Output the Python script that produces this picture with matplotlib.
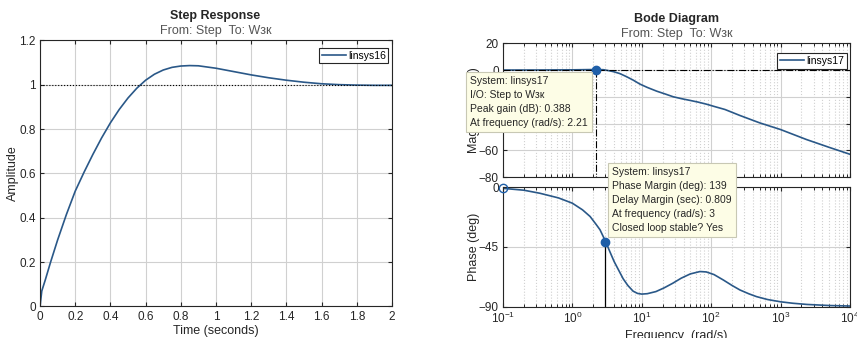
import matplotlib
matplotlib.use("Agg")
import matplotlib.pyplot as plt
from matplotlib.ticker import FuncFormatter, LogLocator, NullFormatter

plt.rcParams['font.family'] = ['Liberation Sans', 'DejaVu Sans']

# step response
step_t = [0, 0.01, 0.03, 0.06, 0.1, 0.15, 0.2, 0.25, 0.3, 0.35, 0.4, 0.45, 0.5,
          0.55, 0.6, 0.65, 0.7, 0.75, 0.8, 0.85, 0.9, 1.0, 1.1, 1.2, 1.3, 1.4,
          1.5, 1.6, 1.7, 1.8, 1.9, 2.0]
step_amp = [0, 0.07, 0.12, 0.2, 0.3, 0.415, 0.52, 0.605, 0.685, 0.76, 0.828,
            0.888, 0.94, 0.984, 1.02, 1.047, 1.066, 1.078, 1.084, 1.086, 1.085,
            1.074, 1.059, 1.044, 1.031, 1.02, 1.011, 1.004, 1.0, 0.998, 0.997,
            0.997]

# bode magnitude
mag_w = [0.1, 0.3, 1, 1.6, 2.21, 2.8, 3.3, 3.9, 4.8, 6, 7.5, 9.4, 12, 16.4, 22,
         28.4, 38, 49.5, 65, 85, 110, 158, 260, 500, 1000, 2370, 5000, 10000]
mag_db = [0, 0.03, 0.15, 0.3, 0.388, 0.25, -0.4, -1.2, -2.6, -4.9, -7.5, -10.5,
          -13, -15.8, -18, -20, -21.5, -22.7, -24, -25.5, -27.2, -29.5, -34,
          -39.5, -44.5, -52, -57.8, -63]

# bode phase
ph_w = [0.1, 0.2, 0.34, 0.63, 1.0, 1.4, 1.8, 2.2, 2.5, 3.0, 3.5, 4, 4.7, 5.4,
        6.3, 7.5, 8.7, 10, 12, 16, 21, 28, 37, 50, 69, 85, 110, 150, 200, 260,
        350, 450, 650, 1000, 1500, 2400, 5000, 10000]
ph_deg = [-0.8, -2.2, -4.5, -8, -12, -17, -22, -28, -32, -40.7, -49, -56, -63,
          -69, -74, -78.3, -80, -80.5, -80.2, -78.6, -75.8, -72.3, -68.5, -65.3,
          -63.5, -63.8, -65.8, -69.9, -74, -77.4, -80.3, -82.4, -84.6, -86.3,
          -87.4, -88.3, -89.1, -89.5]

peak_w, peak_db = 2.21, 0.388
pm_w, pm_deg = 3.0, -41.0

tip1 = ["System: linsys17", "I/O: Step to W\u0437\u043a",
        "Peak gain (dB): 0.388", "At frequency (rad/s): 2.21"]
tip2 = ["System: linsys17", "Phase Margin (deg): 139",
        "Delay Margin (sec): 0.809", "At frequency (rad/s): 3",
        "Closed loop stable? Yes"]

line_c = '#2a5888'
txt_c = '#262626'
grid_c = '#d0d0d0'


def style(ax):
    ax.tick_params(direction='in', top=True, right=True, labelsize=8.5,
                   colors=txt_c, length=3, pad=3)
    ax.tick_params(which='minor', direction='in', top=True, right=True, length=2)
    for s in ax.spines.values():
        s.set_color(txt_c)
        s.set_linewidth(0.8)
    ax.grid(True, which='major', color=grid_c, linewidth=0.8)


def legend(ax, y):
    lg = ax.legend(loc='upper right', fontsize=7.5, handlelength=2.3,
                   handletextpad=0.2, fancybox=False, framealpha=1,
                   borderpad=0.25, borderaxespad=0, bbox_to_anchor=(0.99, y))
    lg.get_frame().set_edgecolor(txt_c)
    lg.get_frame().set_linewidth(0.8)


fig = plt.figure(figsize=(8.57, 3.38), dpi=100)

# ---- step response ----
ax = fig.add_axes([0.0467, 0.0932, 0.4107, 0.7876])
ax.plot(step_t, step_amp, color=line_c, lw=1.2, label='linsys16')
ax.axhline(1.0, color='k', ls=':', lw=0.8)
ax.set_xlim(0, 2)
ax.set_ylim(0, 1.2)
ax.set_xticks([0, 0.2, 0.4, 0.6, 0.8, 1, 1.2, 1.4, 1.6, 1.8, 2])
ax.set_yticks([0, 0.2, 0.4, 0.6, 0.8, 1, 1.2])
fmt = FuncFormatter(lambda v, p: '%g' % round(v, 2))
ax.xaxis.set_major_formatter(fmt)
ax.yaxis.set_major_formatter(fmt)
style(ax)
ax.set_xlabel('Time (seconds)', fontsize=9, color=txt_c, labelpad=2)
ax.set_ylabel('Amplitude', fontsize=9, color=txt_c, labelpad=0)
legend(ax, 0.97)
fig.text(0.2515, 0.952, 'Step Response', ha='center', va='center',
         fontsize=9, fontweight='bold', color=txt_c)
fig.text(0.2515, 0.907, 'From: Step  To: W\u0437\u043a', ha='center',
         va='center', fontsize=9, color='#555555')

# ---- bode magnitude ----
axm = fig.add_axes([0.5869, 0.4763, 0.4049, 0.3956])
axm.semilogx(mag_w, mag_db, color=line_c, lw=1.2, label='linsys17')
axm.axhline(0, color='k', ls='-.', lw=0.8)
axm.plot([peak_w, peak_w], [peak_db, -80], color='k', ls='-.', lw=0.8)
axm.plot(peak_w, peak_db, 'o', color='#1f5fa8', ms=6, zorder=5)
axm.set_xlim(0.1, 10000)
axm.set_ylim(-80, 20)
axm.set_yticks([20, 0, -20, -40, -60, -80])
axm.xaxis.set_minor_locator(LogLocator(base=10, subs=range(2, 10), numticks=20))
axm.xaxis.set_minor_formatter(NullFormatter())
axm.set_xticklabels([])
style(axm)
axm.grid(True, which='minor', axis='x', color=grid_c, ls=':', lw=0.8)
axm.set_ylabel('Magnitude (dB)', fontsize=9, color=txt_c, labelpad=-1)
legend(axm, 0.925)
fig.text(0.7895, 0.943, 'Bode Diagram', ha='center', va='center',
         fontsize=9, fontweight='bold', color=txt_c)
fig.text(0.7895, 0.899, 'From: Step  To: W\u0437\u043a', ha='center',
         va='center', fontsize=9, color='#555555')

# ---- bode phase ----
axp = fig.add_axes([0.5869, 0.0926, 0.4049, 0.3533])
axp.semilogx(ph_w, ph_deg, color=line_c, lw=1.2)
axp.plot([pm_w, pm_w], [pm_deg, -90], color='k', lw=0.9)
axp.plot(pm_w, pm_deg, 'o', color='#1f5fa8', ms=6, zorder=5)
axp.plot(ph_w[0], ph_deg[0], 'o', mfc='none', mec='#1f5fa8', ms=6,
         clip_on=False, zorder=5)
axp.set_xlim(0.1, 10000)
axp.set_ylim(-90, 0)
axp.set_yticks([0, -45, -90])
axp.xaxis.set_minor_locator(LogLocator(base=10, subs=range(2, 10), numticks=20))
axp.xaxis.set_minor_formatter(NullFormatter())
style(axp)
axp.grid(True, which='minor', axis='x', color=grid_c, ls=':', lw=0.8)
axp.set_ylabel('Phase (deg)', fontsize=9, color=txt_c, labelpad=-1)
axp.set_xlabel('Frequency  (rad/s)', fontsize=9, color=txt_c, labelpad=2.5)

# ---- data tips ----
box = dict(boxstyle='square,pad=0.4', fc='#fdfde6', ec='#c8c8b4', lw=0.8)
fig.text(0.549, 0.775, '\n'.join(tip1), ha='left', va='top', fontsize=7.5,
         color=txt_c, linespacing=1.5, bbox=box, zorder=10)
fig.text(0.714, 0.505, '\n'.join(tip2), ha='left', va='top', fontsize=7.5,
         color=txt_c, linespacing=1.5, bbox=box, zorder=10)

fig.savefig('out.png', dpi=100)
